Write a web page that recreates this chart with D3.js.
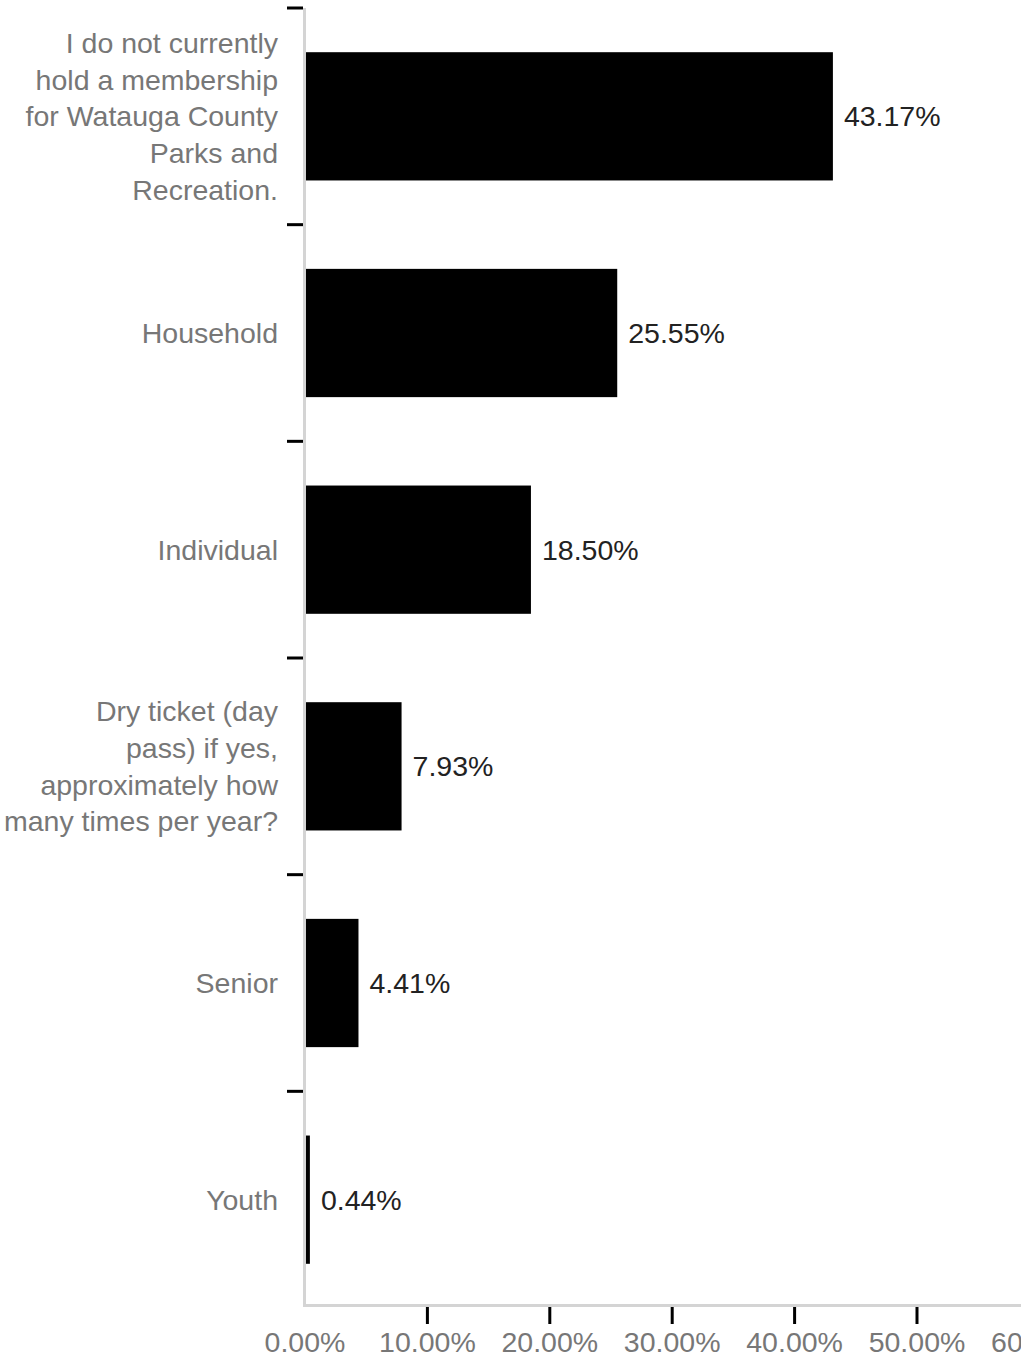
<!DOCTYPE html>
<html>
<head>
<meta charset="utf-8">
<script src="https://cdn.jsdelivr.net/npm/d3@7/dist/d3.min.js"></script>
<style>
  html, body { margin: 0; padding: 0; background: #fff; }
  svg { display: block; font-family: "Liberation Sans", Arial, sans-serif; }
</style>
</head>
<body>
<svg id="chart" width="1021" height="1358"></svg>
<script>
// Membership type responses (share of respondents, %)
const categories = [
  ["I do not currently", "hold a membership", "for Watauga County", "Parks and", "Recreation."],
  ["Household"],
  ["Individual"],
  ["Dry ticket (day", "pass) if yes,", "approximately how", "many times per year?"],
  ["Senior"],
  ["Youth"]
];
const values = [43.17, 25.55, 18.50, 7.93, 4.41, 0.44];
const xTicks = [0, 10, 20, 30, 40, 50, 60];

const svg = d3.select("#chart");
const originX = 304.5;   // value axis origin
const bandTop = 8;       // first band boundary
const bandEnd = 1308;    // last band boundary
const axisY = 1305.5;    // horizontal axis line

const x = d3.scaleLinear().domain([0, 60]).range([originX, originX + 60 * 12.24]);
const y = d3.scaleBand()
  .domain(d3.range(categories.length))
  .range([bandTop, bandEnd])
  .paddingInner(0.408)
  .paddingOuter(0.204);

// Bars
svg.append("g").selectAll("rect")
  .data(values)
  .join("rect")
  .attr("x", x(0))
  .attr("y", (d, i) => y(i))
  .attr("width", d => x(d) - x(0))
  .attr("height", y.bandwidth())
  .attr("fill", "#000");

// Value labels
svg.append("g").selectAll("text")
  .data(values)
  .join("text")
  .attr("x", d => x(d) + 11)
  .attr("y", (d, i) => y(i) + y.bandwidth() / 2)
  .attr("dy", "0.35em")
  .attr("font-size", 28.5)
  .attr("fill", "#222")
  .text(d => d.toFixed(2) + "%");

// Left tick marks at the top edge of each category band
const leftTicks = d3.range(categories.length).map(i => bandTop + i * y.step());

svg.append("g").selectAll("line")
  .data(leftTicks)
  .join("line")
  .attr("x1", 287).attr("x2", 303)
  .attr("y1", d => d).attr("y2", d => d)
  .attr("stroke", "#000").attr("stroke-width", 3);

// Category labels (multi-line, right aligned)
const lineH = 36.7;
const catG = svg.append("g");
categories.forEach((lines, i) => {
  const cy = y(i) + y.bandwidth() / 2;
  const t = catG.append("text")
    .attr("text-anchor", "end")
    .attr("font-size", 28.5)
    .attr("fill", "#777");
  lines.forEach((ln, j) => {
    t.append("tspan")
      .attr("x", 278)
      .attr("y", cy + (j - (lines.length - 1) / 2) * lineH)
      .attr("dy", "0.35em")
      .text(ln);
  });
});

// Bottom axis ticks and labels
const xAxis = d3.axisBottom(x)
  .tickValues(xTicks)
  .tickSize(17)
  .tickPadding(10)
  .tickFormat(d => d3.format(".2f")(d) + "%");

const gx = svg.append("g")
  .attr("transform", `translate(0,${axisY + 1.5})`)
  .call(xAxis);
gx.select(".domain").remove();
gx.selectAll(".tick line").attr("stroke", "#000").attr("stroke-width", 3)
  .attr("opacity", d => d === 0 ? 0 : 1);
gx.selectAll(".tick text")
  .attr("font-size", 28.5)
  .attr("font-family", "Liberation Sans, Arial, sans-serif")
  .attr("fill", "#777")
  .attr("dy", "0.35em")
  .attr("y", 35);

// Axis lines (light gray), drawn over the bar bases
svg.append("line")
  .attr("x1", originX).attr("x2", originX)
  .attr("y1", bandTop).attr("y2", axisY + 1.5)
  .attr("stroke", "#d4d4d4").attr("stroke-width", 3);
svg.append("line")
  .attr("x1", originX - 1.5).attr("x2", 1021)
  .attr("y1", axisY).attr("y2", axisY)
  .attr("stroke", "#d4d4d4").attr("stroke-width", 3);
</script>
</body>
</html>
